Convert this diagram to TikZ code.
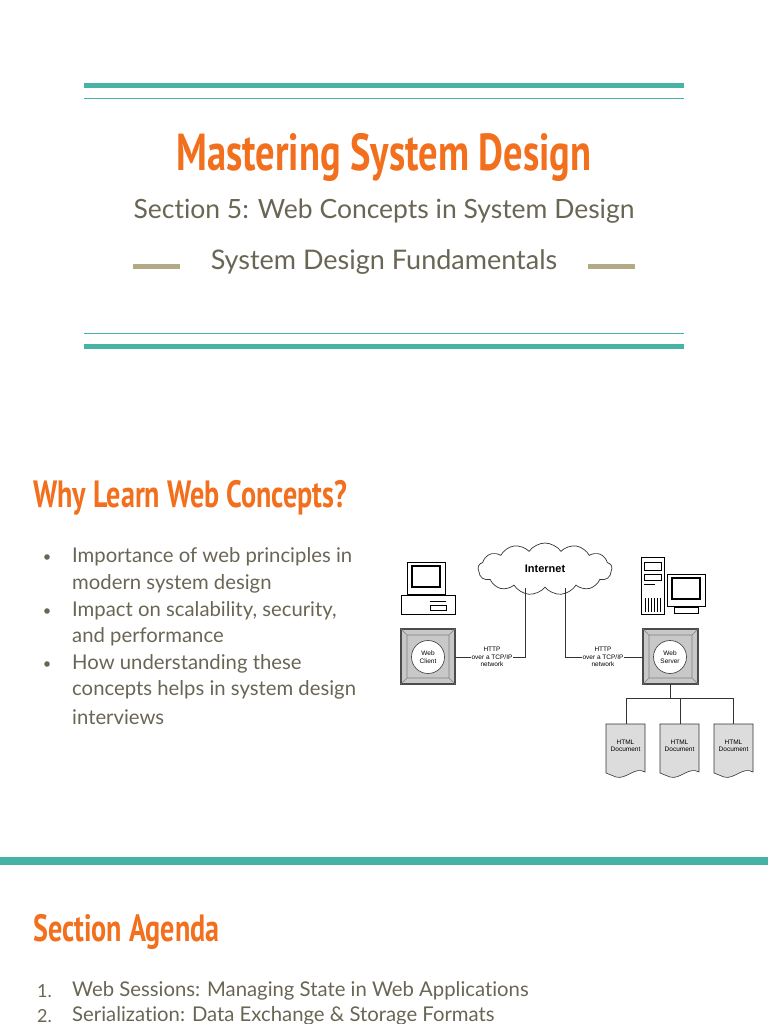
\documentclass[tikz,border=0pt]{standalone}
\usepackage{fontspec}
\setmainfont{Lato}[Ligatures={NoCommon,NoContextual}]
\newfontfamily\headf[FakeStretch=0.74]{PT Sans Bold}
\newfontfamily\diagf{Liberation Sans}
\usetikzlibrary{shapes.symbols}
\definecolor{teal}{HTML}{47B3A6}
\definecolor{orng}{HTML}{F26F1D}
\definecolor{txt}{HTML}{6A6655}
\definecolor{tan}{HTML}{B3A986}
\definecolor{boxg}{HTML}{C8C8C8}
\definecolor{docg}{HTML}{DCDCDC}
\tikzset{
 head/.style={text=orng,font=\headf\fontsize{38}{42}\selectfont,anchor=west,inner sep=0},
 body/.style={text=txt,font=\fontsize{20.3}{24}\selectfont,anchor=west,inner sep=0},
 lab/.style={font=\diagf\fontsize{6.5}{7.5}\selectfont,align=center,inner sep=0},
 wire/.style={line width=0.9pt,black!80},
 dev/.style={draw=black!70,line width=1.2pt,fill=boxg},
}
\newcommand{\docshape}[2]{% x left, name
 \fill[docg,draw=black!80,line width=0.6pt] (#1,724) -- (#1+39,724) -- (#1+39,772) .. controls (#1+29,766) and (#1+20,780) .. (#1+10,777) .. controls (#1+5,775) .. (#1,773) -- cycle;
 \node[lab] (#2) at (#1+19.5,746) {HTML\\Document};}
\newcommand{\pcicon}[2]{% x,y top-left of monitor
 \draw[line width=0.8pt,fill=white] (#1,#2) rectangle (#1+38,#2+32);
 \draw[line width=2pt] (#1+5,#2+4) rectangle (#1+33,#2+25);
}
\begin{document}
\begin{tikzpicture}[x=1pt,y=-1pt]
\useasboundingbox (0,0) rectangle (768,1024);
\fill[white] (0,0) rectangle (768,1024);
% title block
\fill[teal] (84,83.5) rectangle (684,88.5);
\draw[teal,line width=0.8pt] (84,98) -- (684,98);
\draw[teal,line width=0.8pt] (84,333) -- (684,333);
\fill[teal] (84,343.5) rectangle (684,348.5);
\node[text=orng,font=\headf\fontsize{52}{58}\selectfont] (title) at (384,157) {Mastering System Design};
\node[text=txt,font=\fontsize{26.5}{30}\selectfont] (sub) at (384,211) {Section 5: Web Concepts in System Design};
\node[text=txt,font=\fontsize{27}{30}\selectfont] (fund) at (384,262) {System Design Fundamentals};
\fill[tan] (133,264) rectangle (180,268.5);
\fill[tan] (588,264) rectangle (635,268.5);
% section 1
\node[head] (why) at (33,498) {Why Learn Web Concepts?};
\foreach \y in {557,611,664} {\fill[txt] (47,\y) circle (2.8);}
\node[body] at (72,557) {Importance of web principles in};
\node[body] at (72,584) {modern system design};
\node[body] at (72,611) {Impact on scalability, security,};
\node[body] at (72,637) {and performance};
\node[body] at (72,664) {How understanding these};
\node[body] at (72,690) {concepts helps in system design};
\node[body] at (72,717) {interviews};
% diagram
\node[cloud,cloud puffs=13,cloud puff arc=110,aspect=2.6,draw=black!80,line width=0.7pt,fill=white,minimum width=134,minimum height=52,font=\diagf\bfseries\fontsize{11}{12}\selectfont] (net) at (545,569) {Internet};
% client pc
\draw[line width=0.8pt,fill=white] (401,595) rectangle (455,614);
\draw[line width=0.5pt] (430,601) -- (446,601) (430,605) rectangle (446,610);
\pcicon{407}{562}
\draw[line width=0.8pt] (415,594) -- (437,594);
% server pc
\draw[line width=0.8pt,fill=white] (641,557) rectangle (664,614);
\draw[line width=0.5pt] (644,562) rectangle (661,570) (644,574) rectangle (661,580) (644,584) -- (655,584);
\foreach \xx in {645,648,...,660} \draw[line width=0.6pt] (\xx,598) -- (\xx,612);
\pcicon{667}{574}
\draw[line width=0.8pt] (674,607) rectangle (698,613);
% boxes
\draw[dev] (401,629) rectangle (455,684);
\draw[black!50,line width=0.6pt] (401,629) -- (407,635) (455,629) -- (449,635) (401,684) -- (407,678) (455,684) -- (449,678) (407,635) rectangle (449,678);
\node[circle,draw=black!70,fill=white,line width=0.7pt,minimum size=33,lab] (client) at (428,657) {Web\\Client};
\draw[dev] (643,629) rectangle (698,684);
\draw[black!50,line width=0.6pt] (643,629) -- (649,635) (698,629) -- (692,635) (643,684) -- (649,678) (698,684) -- (692,678) (649,635) rectangle (692,678);
\node[circle,draw=black!70,fill=white,line width=0.7pt,minimum size=33,lab] (server) at (670,657) {Web\\Server};
\coordinate (c1) at (525,657); \coordinate (c2) at (565,657);
\draw[wire] (net.south -| c1) -- (c1) -- (455,657);
\draw[wire] (net.south -| c2) -- (c2) -- (643,657);
\node[lab,fill=white,inner sep=0.5pt] (h1) at (492,657) {HTTP\\over a TCP/IP\\network};
\node[lab,fill=white,inner sep=0.5pt] (h2) at (603,657) {HTTP\\over a TCP/IP\\network};
\docshape{606}{d1}
\docshape{660}{d2}
\docshape{714}{d3}
\draw[wire] (670,684) -- (670,698);
\draw[wire] (626,724) -- (626,698) -- (733,698) -- (733,724);
\draw[wire] (680,698) -- (680,724);
% section 2
\fill[teal] (0,857) rectangle (768,865);
\node[head] (agenda) at (33,932) {Section Agenda};
\node[body,anchor=east,font=\fontsize{18}{22}\selectfont] at (52,991) {1.};
\node[body] at (72,991) {Web Sessions: Managing State in Web Applications};
\node[body,anchor=east,font=\fontsize{18}{22}\selectfont] at (52,1016) {2.};
\node[body] at (72,1016) {Serialization: Data Exchange \& Storage Formats};
\end{tikzpicture}
\end{document}
